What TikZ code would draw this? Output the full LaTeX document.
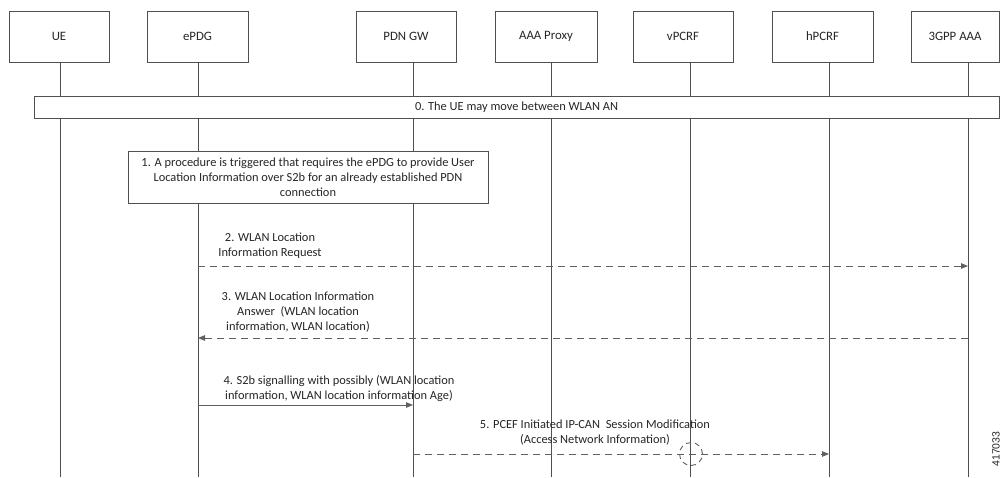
\documentclass[tikz,border=0pt]{standalone}
\usepackage{fontspec}
\setmainfont{Carlito}
\newfontfamily\idfont{Liberation Sans}
\usetikzlibrary{arrows.meta}
\definecolor{ln}{HTML}{505050}
\definecolor{tx}{HTML}{262626}
\definecolor{dl}{HTML}{606060}
\begin{document}
\begin{tikzpicture}[x=1pt,y=-1pt,
  every node/.style={text=tx, font=\fontsize{12.4}{15}\selectfont},
  hdr/.style={draw=ln, line width=0.9pt, fill=white, minimum height=51pt, inner sep=0pt, font=\fontsize{12.8}{15}\selectfont},
  life/.style={draw=ln, line width=0.9pt},
  note/.style={draw=ln, line width=0.9pt, fill=white, align=center, inner sep=0pt},
  lbl/.style={align=center, inner sep=0pt},
  msg/.style={line width=0.9pt, draw=dl, -{Triangle[length=7pt,width=5.5pt]}},
  dmsg/.style={msg, dash pattern=on 7pt off 5pt}]
\useasboundingbox (0,0) rectangle (1001,477);
\fill[white] (0,0) rectangle (1001,477);
% headers
\node[hdr, minimum width=100pt] (ue) at (59,36.5) {UE};
\node[hdr, minimum width=101pt] (epdg) at (197.5,36.5) {ePDG};
\node[hdr, minimum width=100pt] (pgw) at (406,36.5) {PDN GW};
\node[hdr, minimum width=102pt] (aaap) at (546,36.5) {AAA Proxy};
\node[hdr, minimum width=100pt] (vpcrf) at (683,36.5) {vPCRF};
\node[hdr, minimum width=101pt] (hpcrf) at (822.5,36.5) {hPCRF};
\node[hdr, minimum width=88pt] (aaa) at (955,36.5) {3GPP AAA};
% lifeline coordinates
\foreach \n/\x in {ue/60, epdg/198, pgw/413, aaap/551, vpcrf/690, hpcrf/829, aaa/968}{
  \coordinate (\n-top) at (\x,62);
  \coordinate (\n-bot) at (\x,477);
  \coordinate (\n-m2) at (\x,266);
  \coordinate (\n-m3) at (\x,338);
  \coordinate (\n-m4) at (\x,405);
  \coordinate (\n-m5) at (\x,454);
}
\foreach \n in {ue, epdg, pgw, aaap, vpcrf, hpcrf, aaa}{
  \draw[life] (\n-top) -- (\n-bot);
}
% step 0
\node[note, minimum width=965pt, minimum height=22pt] (s0) at (516.5,107) {0. The UE may move between WLAN AN};
% step 1
\node[note, minimum width=360pt, minimum height=52pt] (s1) at (308,177)
  {1. A procedure is triggered that requires the ePDG to provide User\\
   Location Information over S2b for an already established PDN\\
   connection};
% step 2
\node[lbl] (l2) at (270,245.5) {2. WLAN Location\\Information Request};
\draw[dmsg] (epdg-m2) -- (aaa-m2);
% step 3
\node[lbl] (l3) at (298,312) {3. WLAN Location Information\\Answer\ \ (WLAN location\\information, WLAN location)};
\draw[dmsg] (aaa-m3) -- (epdg-m3);
% step 4
\node[lbl] (l4) at (339,389) {4. S2b signalling with possibly (WLAN location\\information, WLAN location information Age)};
\draw[msg] (epdg-m4) -- (pgw-m4);
% step 5
\node[lbl] (l5) at (595,432.5) {5. PCEF Initiated IP-CAN\ \ Session Modification\\(Access Network Information)};
\draw[dmsg] (pgw-m5) -- (hpcrf-m5);
\node[draw=dl, line width=0.9pt, dash pattern=on 5pt off 4pt, circle, minimum size=23pt, inner sep=0pt] (c5) at (691,454) {};
% id
\node[rotate=90, font=\idfont\fontsize{10.5}{12}\selectfont, inner sep=0pt] (id) at (996,449) {417033};
\end{tikzpicture}
\end{document}
